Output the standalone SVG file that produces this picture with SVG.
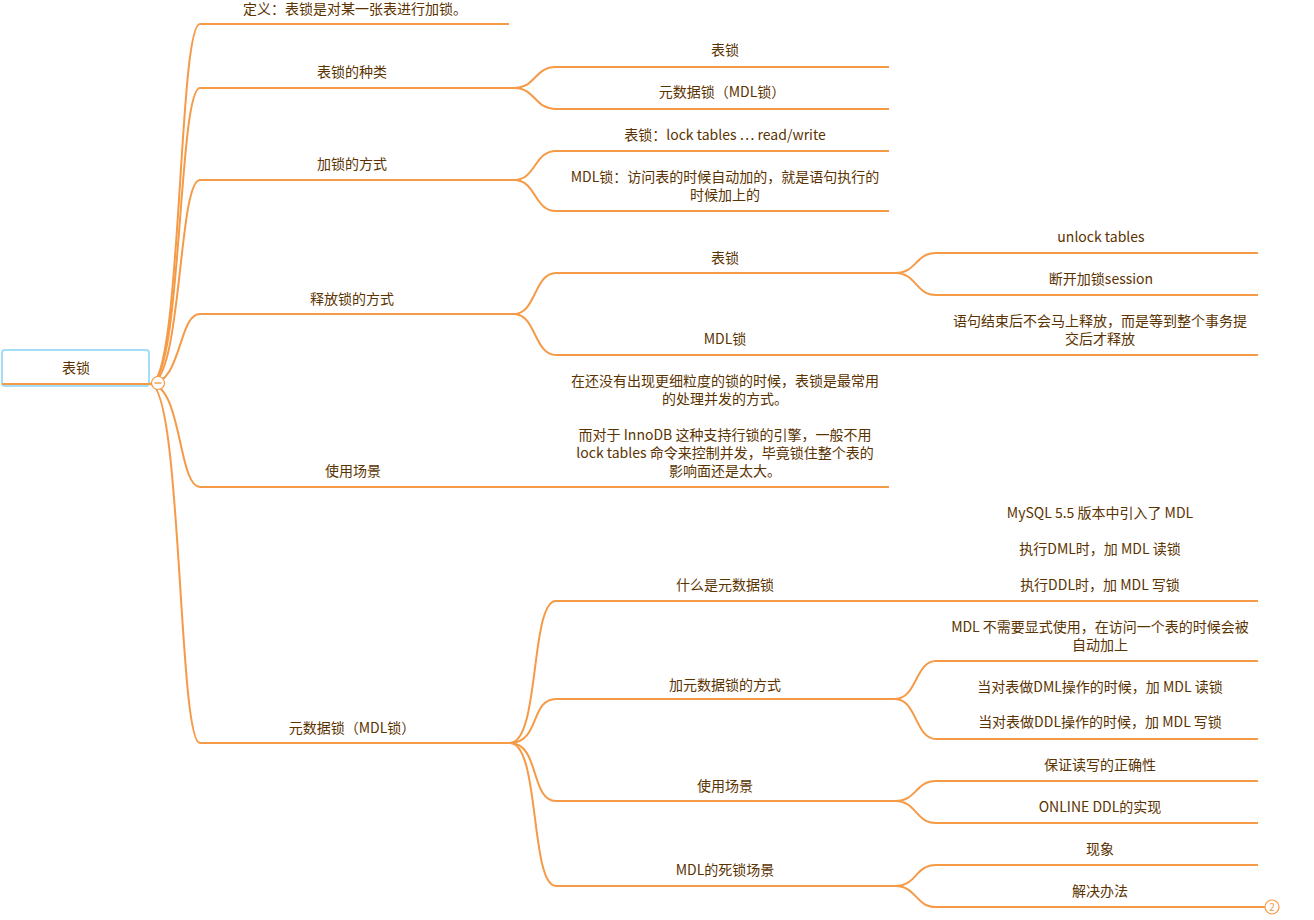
<svg xmlns="http://www.w3.org/2000/svg" width="1314" height="920" viewBox="0 0 1314 920">
<style>
text{font-family:"Noto Sans CJK SC","Liberation Sans",sans-serif;font-size:14px;fill:#5b3300;text-anchor:middle}
.u{stroke:#f59a46;stroke-width:2;fill:none}
.c{stroke:#f59a46;stroke-width:2;fill:none}
</style>
<rect width="1314" height="920" fill="#ffffff"/>
<g id="connectors">
<path class="c" d="M150,384 C182,384 178,24 200,24"/>
<path class="c" d="M150,384 C182,384 178,88 200,88"/>
<path class="c" d="M150,384 C182,384 178,180 200,180"/>
<path class="c" d="M150,384 C182,384 178,314 200,314"/>
<path class="c" d="M150,384 C182,384 178,487 200,487"/>
<path class="c" d="M150,384 C182,384 178,743 200,743"/>
<path class="c" d="M514,88 C536,88 534,67 556,67"/>
<path class="c" d="M514,88 C536,88 534,109 556,109"/>
<path class="c" d="M514,180 C536,180 534,151 556,151"/>
<path class="c" d="M514,180 C536,180 534,211 556,211"/>
<path class="c" d="M514,314 C536,314 534,273 556,273"/>
<path class="c" d="M514,314 C536,314 534,355 556,355"/>
<path class="c" d="M514,487 L556,487"/>
<path class="c" d="M895,273 C917,273 915,253 936,253"/>
<path class="c" d="M895,273 C917,273 915,295 936,295"/>
<path class="c" d="M895,355 L936,355"/>
<path class="c" d="M510,743 C540,743 530,601 556,601"/>
<path class="c" d="M510,743 C540,743 530,699 556,699"/>
<path class="c" d="M510,743 C540,743 530,801 556,801"/>
<path class="c" d="M510,743 C540,743 530,886 556,886"/>
<path class="c" d="M895,601 L936,601"/>
<path class="c" d="M895,699 C917,699 915,661 936,661"/>
<path class="c" d="M895,699 C917,699 915,739 936,739"/>
<path class="c" d="M895,801 C917,801 915,781 936,781"/>
<path class="c" d="M895,801 C917,801 915,823 936,823"/>
<path class="c" d="M895,886 C917,886 915,865 936,865"/>
<path class="c" d="M895,886 C917,886 915,907 936,907"/>
</g>
<g id="root">
<rect x="2" y="350" width="147" height="36" rx="3" fill="#ffffff" stroke="#a3ddf8" stroke-width="2"/>
<line class="u" x1="2" y1="384" x2="150" y2="384"/>
<text x="76" y="373">表锁</text>
<circle cx="158" cy="383" r="6.5" fill="#ffffff" stroke="#f59a46" stroke-width="1.2"/>
<line x1="154.5" y1="383" x2="161.5" y2="383" stroke="#f59a46" stroke-width="1.4"/>
</g>
<g id="n-def"><line class="u" x1="200" y1="24" x2="509" y2="24"/><text x="355" y="14">定义：表锁是对某一张表进行加锁。</text></g>
<g id="n-kinds"><line class="u" x1="200" y1="88" x2="514" y2="88"/><text x="352" y="77">表锁的种类</text></g>
<g id="n-kinds-1"><line class="u" x1="556" y1="67" x2="889" y2="67"/><text x="725" y="55">表锁</text></g>
<g id="n-kinds-2"><line class="u" x1="556" y1="109" x2="889" y2="109"/><text x="722" y="97">元数据锁（MDL锁）</text></g>
<g id="n-add"><line class="u" x1="200" y1="180" x2="514" y2="180"/><text x="352" y="169">加锁的方式</text></g>
<g id="n-add-1"><line class="u" x1="556" y1="151" x2="889" y2="151"/><text x="725" y="140">表锁：lock tables … read/write</text></g>
<g id="n-add-2"><line class="u" x1="556" y1="211" x2="889" y2="211"/><text x="725" y="182">MDL锁：访问表的时候自动加的，就是语句执行的</text><text x="725" y="200">时候加上的</text></g>
<g id="n-rel"><line class="u" x1="200" y1="314" x2="514" y2="314"/><text x="352" y="304">释放锁的方式</text></g>
<g id="n-rel-1"><line class="u" x1="556" y1="273" x2="895" y2="273"/><text x="725" y="263">表锁</text></g>
<g id="n-rel-1a"><line class="u" x1="936" y1="253" x2="1258" y2="253"/><text x="1101" y="242">unlock tables</text></g>
<g id="n-rel-1b"><line class="u" x1="936" y1="295" x2="1258" y2="295"/><text x="1101" y="284">断开加锁session</text></g>
<g id="n-rel-2"><line class="u" x1="556" y1="355" x2="895" y2="355"/><text x="725" y="344">MDL锁</text></g>
<g id="n-rel-2a"><line class="u" x1="936" y1="355" x2="1258" y2="355"/><text x="1100" y="326">语句结束后不会马上释放，而是等到整个事务提</text><text x="1100" y="344">交后才释放</text></g>
<g id="n-use"><line class="u" x1="200" y1="487" x2="514" y2="487"/><text x="353" y="476">使用场景</text></g>
<g id="n-use-1"><line class="u" x1="556" y1="487" x2="889" y2="487"/>
<text x="725" y="386">在还没有出现更细粒度的锁的时候，表锁是最常用</text>
<text x="725" y="404">的处理并发的方式。</text>
<text x="725" y="440">而对于 InnoDB 这种支持行锁的引擎，一般不用</text>
<text x="725" y="458">lock tables 命令来控制并发，毕竟锁住整个表的</text>
<text x="725" y="476">影响面还是太大。</text></g>
<g id="n-mdl"><line class="u" x1="200" y1="743" x2="512" y2="743"/><text x="352" y="733">元数据锁（MDL锁）</text></g>
<g id="n-mdl-1"><line class="u" x1="556" y1="601" x2="895" y2="601"/><text x="725" y="590">什么是元数据锁</text></g>
<g id="n-mdl-1a"><line class="u" x1="936" y1="601" x2="1258" y2="601"/>
<text x="1100" y="518">MySQL 5.5 版本中引入了 MDL</text>
<text x="1100" y="554">执行DML时，加 MDL 读锁</text>
<text x="1100" y="590">执行DDL时，加 MDL 写锁</text></g>
<g id="n-mdl-2"><line class="u" x1="556" y1="699" x2="895" y2="699"/><text x="725" y="690">加元数据锁的方式</text></g>
<g id="n-mdl-2a"><line class="u" x1="936" y1="661" x2="1258" y2="661"/><text x="1100" y="632">MDL 不需要显式使用，在访问一个表的时候会被</text><text x="1100" y="650">自动加上</text></g>
<g id="n-mdl-2b"><line class="u" x1="936" y1="739" x2="1258" y2="739"/><text x="1100" y="692">当对表做DML操作的时候，加 MDL 读锁</text><text x="1100" y="727">当对表做DDL操作的时候，加 MDL 写锁</text></g>
<g id="n-mdl-3"><line class="u" x1="556" y1="801" x2="895" y2="801"/><text x="725" y="791">使用场景</text></g>
<g id="n-mdl-3a"><line class="u" x1="936" y1="781" x2="1258" y2="781"/><text x="1100" y="770">保证读写的正确性</text></g>
<g id="n-mdl-3b"><line class="u" x1="936" y1="823" x2="1258" y2="823"/><text x="1100" y="812">ONLINE DDL的实现</text></g>
<g id="n-mdl-4"><line class="u" x1="556" y1="886" x2="895" y2="886"/><text x="725" y="875">MDL的死锁场景</text></g>
<g id="n-mdl-4a"><line class="u" x1="936" y1="865" x2="1258" y2="865"/><text x="1100" y="854">现象</text></g>
<g id="n-mdl-4b"><line class="u" x1="936" y1="907" x2="1265" y2="907"/><text x="1100" y="896">解决办法</text>
<circle cx="1272" cy="907" r="7" fill="#ffffff" stroke="#f59a46" stroke-width="1.2"/>
<text x="1272" y="911" style="font-size:10px;fill:#f59a46">2</text></g>
</svg>
